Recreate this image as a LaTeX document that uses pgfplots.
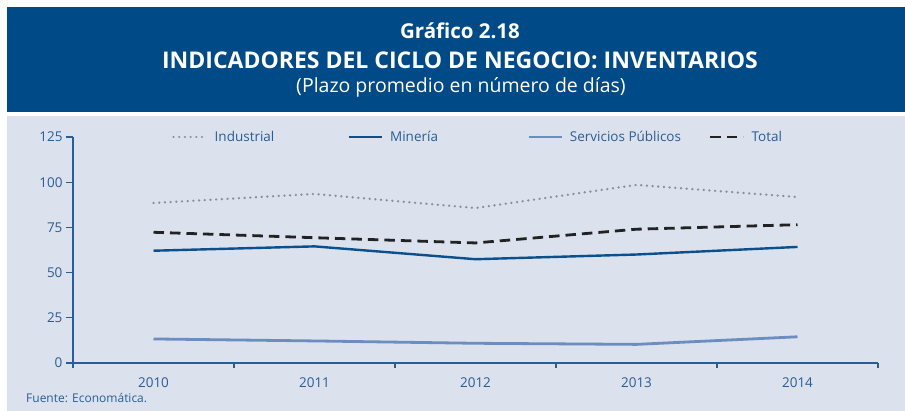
\documentclass[border=0pt]{standalone}
\usepackage{pgfplots}
\pgfplotsset{compat=1.18}
\usepackage{fontspec}
\setmainfont{Open Sans}
\definecolor{banner}{HTML}{004B87}
\definecolor{panel}{HTML}{DCE1EE}
\definecolor{axblue}{HTML}{2A5D96}
\definecolor{mineria}{HTML}{0A4F8E}
\definecolor{servicios}{HTML}{6B8DC0}
\definecolor{industrial}{HTML}{8E8E96}
\definecolor{total}{HTML}{222222}
\begin{document}
\begin{tikzpicture}[x=1pt,y=1pt]
\useasboundingbox (0,0) rectangle (905,-411);
\fill[banner] (7,-7) rectangle (905,-112);
\fill[panel] (7,-116) rectangle (905,-411);
\node[text=white, font=\fontsize{20.5}{24}\selectfont\bfseries, anchor=base, inner sep=0pt] at (460,-39) {Gráfico 2.18};
\node[text=white, font=\fontsize{23}{27}\selectfont\bfseries, anchor=base, inner sep=0pt] at (460,-69) {INDICADORES DEL CICLO DE NEGOCIO: INVENTARIOS};
\node[text=white, font=\fontsize{19.5}{23}\selectfont, anchor=base, inner sep=0pt] at (461,-93) {(Plazo promedio en número de días)};
\node[text=axblue, font=\fontsize{12}{14}\selectfont, anchor=west, inner sep=0pt] at (26,-398) {Fuente: Economática.};
\begin{axis}[
  at={(73pt,-363pt)}, anchor=south west,
  scale only axis, width=805pt, height=226pt,
  xmin=-0.5, xmax=4.5, ymin=0, ymax=125,
  axis x line=bottom, axis y line=left,
  axis line style={axblue, line width=1.1pt, -},
  xtick={0,1,2,3,4}, xticklabels={2010,2011,2012,2013,2014},
  every major x tick/.append style={draw=none},
  minor xtick={-0.5,0.5,1.5,2.5,3.5,4.5},
  minor tick length=5pt,
  ytick={0,25,50,75,100,125},
  major tick length=7pt,
  tick align=outside,
  every tick/.append style={axblue, line width=1.1pt},
  /pgf/number format/assume math mode=true,
  ticklabel style={font=\fontsize{13.5}{16}\selectfont, text=axblue},
  xticklabel style={yshift=-4pt},
  clip=false,
  legend columns=4,
  legend style={draw=none, fill=none, at={(0.123,1)}, anchor=west, inner sep=0pt,
     font=\fontsize{13.5}{16}\selectfont, text=axblue,
     /tikz/every odd column/.append style={column sep=5pt}},
  legend image code/.code={\draw[#1] (0pt,0pt) -- (33pt,0pt);},
  every axis plot/.append style={line join=round},
]
\addplot[industrial, line width=2.5pt, line cap=round, dash pattern=on 0.1pt off 5.6pt] coordinates {(0,88.5) (1,93.5) (2,85.7) (3,98.5) (4,91.8)};
\addlegendentry{\makebox[131pt][l]{Industrial}}
\addplot[mineria, line width=2.4pt] coordinates {(0,62.1) (1,64.5) (2,57.4) (3,60.0) (4,64.2)};
\addlegendentry{\makebox[135pt][l]{Minería}}
\addplot[servicios, line width=2.8pt] coordinates {(0,13.3) (1,12.2) (2,10.9) (3,10.3) (4,14.5)};
\addlegendentry{\makebox[137pt][l]{Servicios Públicos}}
\addplot[total, line width=2.8pt, dash pattern=on 10.5pt off 6pt] coordinates {(0,72.3) (1,69.3) (2,66.4) (3,74.0) (4,76.5)};
\addlegendentry{Total}
\end{axis}
\end{tikzpicture}
\end{document}
